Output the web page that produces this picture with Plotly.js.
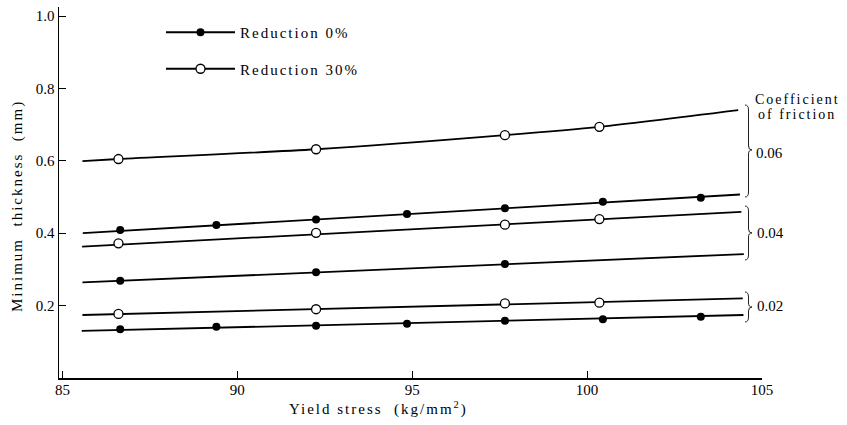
<!DOCTYPE html>
<html>
<head>
<meta charset="utf-8">
<script src="https://cdn.plot.ly/plotly-3.0.1.min.js"></script>
<style>html,body{margin:0;padding:0;background:#fff;}</style>
</head>
<body>
<div id="chart" style="width:847px;height:425px;"></div>
<script>
// ---- data ----
// markers, Reduction 0% (filled)
const xFilled = [86.65, 89.4, 92.25, 94.85, 97.65, 100.45, 103.25];
const yFilled006 = [0.409, 0.423, 0.438, 0.453, 0.469, 0.487, 0.498];
const yFilled002 = [0.1345, 0.1417, 0.1445, 0.150, 0.158, 0.162, 0.169];
const xFilled004 = [86.65, 92.25, 97.65];
const yFilled004 = [0.269, 0.292, 0.315];
// markers, Reduction 30% (open)
const xOpen = [86.6, 92.25, 97.65, 100.35];
const yOpen006 = [0.605, 0.632, 0.671, 0.694];
const yOpen004 = [0.372, 0.401, 0.4235, 0.439];
const yOpen002 = [0.177, 0.190, 0.206, 0.208];
// calculated curves
const xC06_30 = [85.57, 86.6, 92.25, 97.65, 100.35, 104.32];
const yC06_30 = [0.599, 0.605, 0.632, 0.671, 0.694, 0.740];
const xC06_0 = [85.58, 97.65, 104.37];
const yC06_0 = [0.400, 0.469, 0.507];
const xC04_30 = [85.56, 104.41];
const yC04_30 = [0.363, 0.459];
const xC04_0 = [85.57, 104.48];
const yC04_0 = [0.264, 0.3425];
const xC02_30 = [85.57, 104.45];
const yC02_30 = [0.174, 0.220];
const xC02_0 = [85.55, 104.47];
const yC02_0 = [0.130, 0.174];
const xTicks = [85, 90, 95, 100, 105];
const yTicks = [0.2, 0.4, 0.6, 0.8, 1.0];
const frictionLabels = ['0.06', '0.04', '0.02'];
const legendNames = ['Reduction 0%', 'Reduction 30%'];

const FAM = "'Liberation Serif', 'DejaVu Serif', serif";
const LS = s => '<span style="letter-spacing:2px">' + s + '</span>';
const lineStyle = {color: '#000', width: 1.8};
const filledM = {symbol: 'circle', size: 8, color: '#000'};
const openM = {symbol: 'circle', size: 9, color: '#fff', line: {color: '#000', width: 1.3}};

function curve(x, y, shape) {
  return {x: x, y: y, mode: 'lines', line: Object.assign({shape: shape || 'linear', smoothing: 0.8}, lineStyle),
          showlegend: false, hoverinfo: 'skip'};
}
function pts(x, y, m) {
  return {x: x, y: y, mode: 'markers', marker: m, showlegend: false, cliponaxis: false};
}

const traces = [
  curve(xC06_30, yC06_30, 'spline'),
  curve(xC06_0, yC06_0),
  curve(xC04_30, yC04_30),
  curve(xC04_0, yC04_0),
  curve(xC02_30, yC02_30),
  curve(xC02_0, yC02_0),
  pts(xOpen, yOpen006, openM),
  pts(xFilled, yFilled006, filledM),
  pts(xOpen, yOpen004, openM),
  pts(xFilled004, yFilled004, filledM),
  pts(xOpen, yOpen002, openM),
  pts(xFilled, yFilled002, filledM),
  {x: [null], y: [null], mode: 'lines+markers', name: LS(legendNames[0]), legendgroup: 'a',
   line: lineStyle, marker: filledM, showlegend: true},
  {x: [null], y: [null], mode: 'lines+markers', name: LS(legendNames[1]), legendgroup: 'b',
   line: lineStyle, marker: openM, showlegend: true}
];

// pixel helpers for decorations (plot area: left 59, top 7, width 703, height 371)
const PX = v => (v - 59) / 703;
const PY = v => (378 - v) / 371;
function brace(L, t, m, b) {
  const p = (x, y) => PX(x).toFixed(5) + ',' + PY(y).toFixed(5);
  return 'M' + p(L, t) + ' Q' + p(L + 3.5, t) + ' ' + p(L + 3.5, t + 5) +
         ' L' + p(L + 3.5, m - 4) + ' Q' + p(L + 3.5, m) + ' ' + p(L + 7, m) +
         ' Q' + p(L + 3.5, m) + ' ' + p(L + 3.5, m + 4) +
         ' L' + p(L + 3.5, b - 5) + ' Q' + p(L + 3.5, b) + ' ' + p(L, b);
}
const braceShape = path => ({type: 'path', xref: 'paper', yref: 'paper', path: path,
  line: {color: '#222', width: 1}});

const font = {family: FAM, size: 14, color: '#000'};

const annText = (txt, cx, cy, extra) => Object.assign({
  xref: 'paper', yref: 'paper', x: PX(cx), y: PY(cy), xanchor: 'center', yanchor: 'middle',
  text: txt, showarrow: false, font: font}, extra || {});

const layout = {
  width: 847, height: 425,
  margin: {l: 59, r: 85, t: 7, b: 47},
  paper_bgcolor: '#fff', plot_bgcolor: '#fff',
  font: font,
  showlegend: true,
  legend: {x: PX(161), y: PY(16), xanchor: 'left', yanchor: 'top', bgcolor: 'rgba(0,0,0,0)',
           font: {family: FAM, size: 15, color: '#000'}, tracegroupgap: 14, itemwidth: 69,
           traceorder: 'grouped'},
  xaxis: {range: [84.9, 105], showline: true, linecolor: '#000', linewidth: 1.5, mirror: false,
          showgrid: false, zeroline: false, ticks: 'inside', ticklen: 7, tickwidth: 1, tickcolor: '#000',
          ticklabelstandoff: -3,
          tickvals: xTicks, ticktext: xTicks.map(String), tickfont: {family: FAM, size: 15, color: '#000'}},
  yaxis: {range: [0, 1.025], showline: true, linecolor: '#000', linewidth: 1.5, mirror: false,
          showgrid: false, zeroline: false, ticks: 'inside', ticklen: 7, tickwidth: 1, tickcolor: '#000',
          tickvals: yTicks, ticktext: yTicks.map(v => v.toFixed(1)), tickfont: {family: FAM, size: 15, color: '#000'}},
  shapes: [
    braceShape(brace(745, 105, 150, 197)),
    braceShape(brace(745, 206, 233, 260)),
    braceShape(brace(745, 292, 307, 322))
  ],
  annotations: [
    annText(LS('Minimum\u00a0\u00a0thickness\u00a0\u00a0(mm)'), 17, 206, {textangle: -90, font: {family: FAM, size: 15, color: '#000'}}),
    annText(LS('Yield\u00a0stress\u00a0\u00a0(kg/mm<sup>2</sup>)'), 378, 408, {font: {family: FAM, size: 15, color: '#000'}}),
    annText(LS('Coefficient'), 797, 99),
    annText(LS('of\u00a0friction'), 797, 114),
    annText(frictionLabels[0], 769, 153, {font: {family: FAM, size: 15, color: '#000'}}),
    annText(frictionLabels[1], 770, 233, {font: {family: FAM, size: 15, color: '#000'}}),
    annText(frictionLabels[2], 770, 306, {font: {family: FAM, size: 15, color: '#000'}})
  ]
};

Plotly.newPlot('chart', traces, layout, {displayModeBar: false, staticPlot: true});
</script>
</body>
</html>
